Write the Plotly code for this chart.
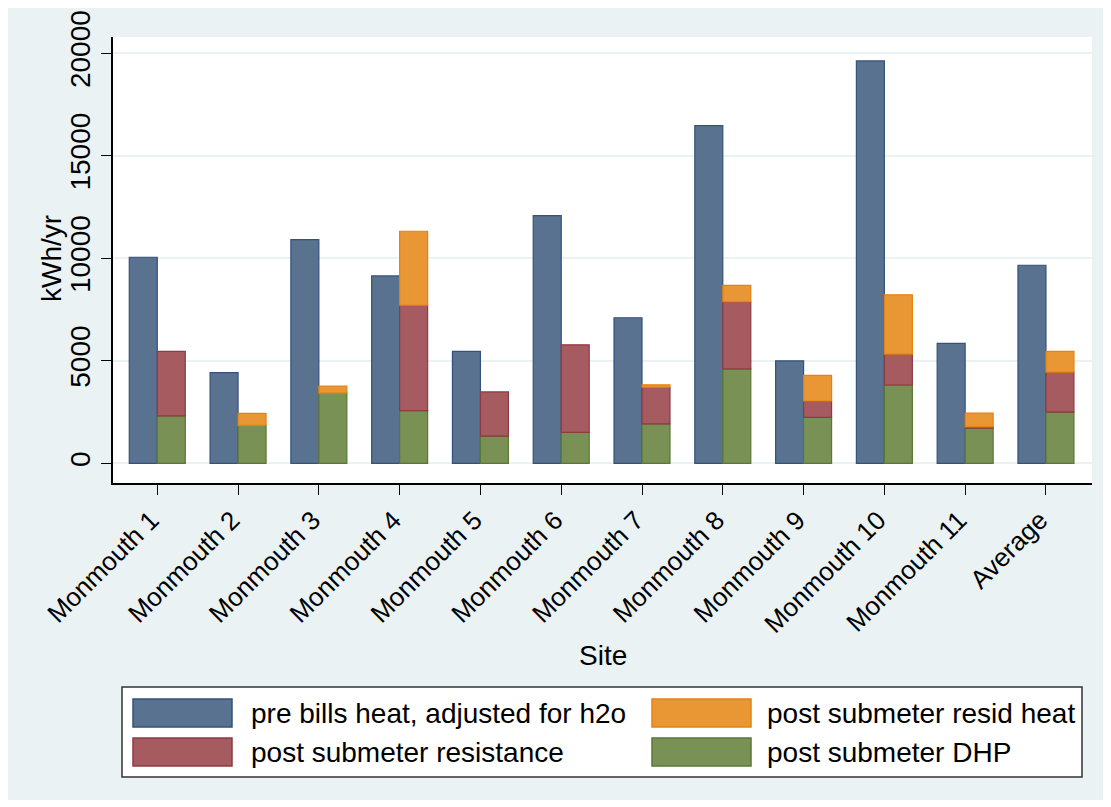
import plotly.graph_objects as go

sites = ["Monmouth 1", "Monmouth 2", "Monmouth 3", "Monmouth 4", "Monmouth 5",
         "Monmouth 6", "Monmouth 7", "Monmouth 8", "Monmouth 9", "Monmouth 10",
         "Monmouth 11", "Average"]
pre_bills = [10050, 4420, 10910, 9140, 5460, 12080, 7100, 16470, 5000, 19630, 5850, 9660]
post_dhp = [2310, 1850, 3420, 2570, 1330, 1510, 1920, 4610, 2240, 3820, 1720, 2500]
post_resistance = [3150, 0, 0, 5140, 2150, 4270, 1790, 3270, 800, 1510, 60, 1950]
post_resid = [0, 590, 350, 3610, 0, 0, 120, 800, 1250, 2890, 670, 1010]

legend_labels = ["pre bills heat, adjusted for h2o", "post submeter resid heat",
                 "post submeter resistance", "post submeter DHP"]
y_ticks = [0, 5000, 10000, 15000, 20000]
y_ticktext = ["0", "5000", "10000", "15000", "20000"]

FILL = {"blue": "#58728F", "red": "#A55B5F", "orange": "#E99634", "green": "#7A9155"}
EDGE = {"blue": "#34527A", "red": "#8E3A44", "orange": "#E5820E", "green": "#587834"}
FONT = "Liberation Sans, Arial, sans-serif"

OFF = 8  # page body margin
W, H = 1111 - OFF, 800 - OFF
L, R, T, B = 113 - OFF, 1092 - OFF, 37 - OFF, 483 - OFF
BW = 0.3465


def nz(v):
    return [None if a == 0 else a for a in v]


def px2x(px):
    return (px - OFF - L) / (R - L)


def px2y(py):
    return (B - (py - OFF)) / (B - T)


base_res = [d for d in post_dhp]
base_resid = [d + r for d, r in zip(post_dhp, post_resistance)]

fig = go.Figure()
fig.add_bar(x=sites, y=pre_bills, offset=-BW, width=BW, name=legend_labels[0],
            marker=dict(color=FILL["blue"], line=dict(color=EDGE["blue"], width=1.2)))
fig.add_bar(x=sites, y=nz(post_dhp), offset=0, width=BW, name=legend_labels[3],
            marker=dict(color=FILL["green"], line=dict(color=EDGE["green"], width=1.2)))
fig.add_bar(x=sites, y=nz(post_resistance), base=base_res, offset=0, width=BW,
            name=legend_labels[2],
            marker=dict(color=FILL["red"], line=dict(color=EDGE["red"], width=1.2)))
fig.add_bar(x=sites, y=nz(post_resid), base=base_resid, offset=0, width=BW,
            name=legend_labels[1],
            marker=dict(color=FILL["orange"], line=dict(color=EDGE["orange"], width=1.2)))

shapes = [
    dict(type="rect", xref="paper", yref="paper", x0=px2x(122), x1=px2x(1082),
         y0=px2y(777), y1=px2y(687), fillcolor="white",
         line=dict(color="#333333", width=1.5)),
]
annotations = [
    dict(xref="paper", yref="paper", x=px2x(603), y=px2y(655), text="Site",
         showarrow=False, xanchor="center", yanchor="middle",
         font=dict(family=FONT, size=28, color="black")),
    dict(xref="paper", yref="paper", x=px2x(51), y=px2y(258), text="kWh/yr",
         textangle=-90, showarrow=False, xanchor="center", yanchor="middle",
         font=dict(family=FONT, size=28, color="black")),
]
legend_items = [
    (legend_labels[0], "blue", 133, 249, 699, 727),
    (legend_labels[1], "orange", 652, 765, 699, 727),
    (legend_labels[2], "red", 133, 249, 738, 766),
    (legend_labels[3], "green", 652, 765, 738, 766),
]
for label, c, sx, tx, sy0, sy1 in legend_items:
    shapes.append(dict(type="rect", xref="paper", yref="paper", x0=px2x(sx), x1=px2x(sx + 99),
                       y0=px2y(sy1), y1=px2y(sy0), fillcolor=FILL[c],
                       line=dict(color=EDGE[c], width=1.5)))
    annotations.append(dict(xref="paper", yref="paper", x=px2x(tx), y=px2y((sy0 + sy1) / 2),
                            text=label, showarrow=False, xanchor="left", yanchor="middle",
                            font=dict(family=FONT, size=28, color="black")))

fig.update_layout(
    width=W, height=H,
    margin=dict(l=L, r=W - R, t=T, b=H - B, pad=0, autoexpand=False),
    paper_bgcolor="#EAF2F3", plot_bgcolor="white",
    barmode="overlay", showlegend=False,
    font=dict(family=FONT, size=28, color="black"),
    shapes=shapes, annotations=annotations,
    xaxis=dict(range=[-0.548, 11.57], tickangle=-45, showline=True, linecolor="black",
               linewidth=1.5, ticks="outside", ticklen=10, tickwidth=1.3, tickcolor="black",
               showgrid=False, zeroline=False, automargin=False, ticklabelshift=-6,
               tickfont=dict(family=FONT, size=26)),
    yaxis=dict(range=[-961, 20795], tickvals=y_ticks, ticktext=y_ticktext, tickangle=-90,
               showline=True, linecolor="black", linewidth=1.5, ticks="outside", ticklen=10,
               tickwidth=1.3, tickcolor="black", showgrid=True, gridcolor="#EAF2F3",
               gridwidth=2, zeroline=False, ticklabelstandoff=0, automargin=False,
               tickfont=dict(family=FONT, size=28)),
)

fig.write_html("out.html")
